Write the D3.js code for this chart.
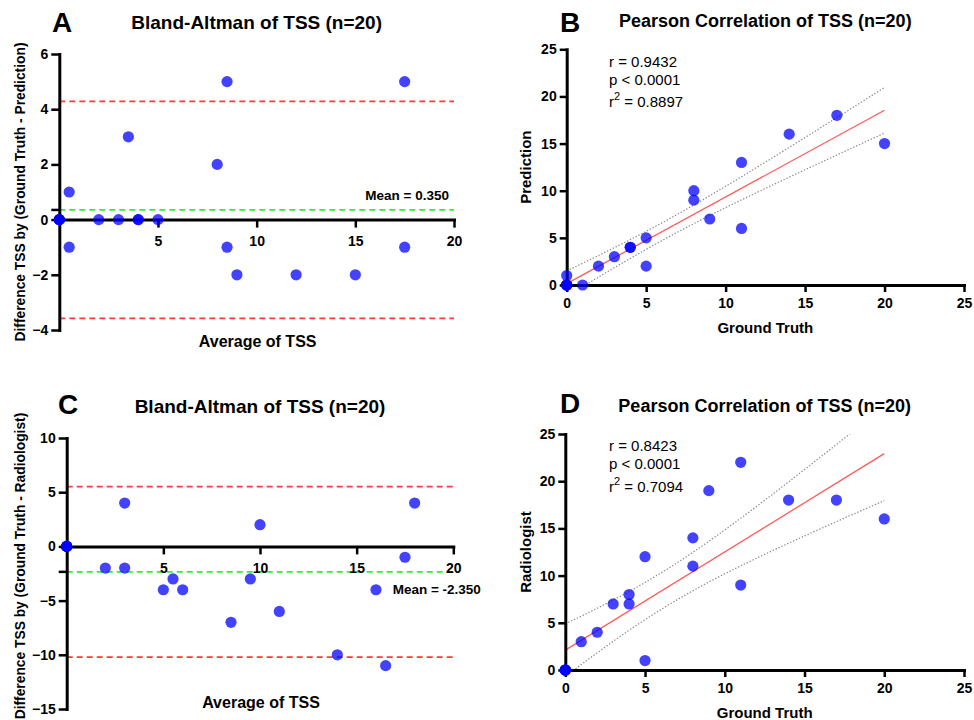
<!DOCTYPE html>
<html>
<head>
<meta charset="utf-8">
<script src="https://cdn.jsdelivr.net/npm/d3@7"></script>
<style>
  html, body { margin: 0; padding: 0; background: #fff; }
  svg { display: block; font-family: "Liberation Sans", Arial, sans-serif; }
</style>
</head>
<body>
<svg id="chart" width="974" height="720"></svg>
<script>
// ---------------- DATA ----------------
const groundTruth  = [0,0,0,0,0,1,2,3,4,4,5,5,8,8,9,11,11,14,17,20];
const prediction   = [0,0,0,0,1,0,2,3,4,4,5,2,10,9,7,13,6,16,18,15];
const radiologist  = [0,0,0,0,0,3,4,7,8,7,12,1,14,11,19,22,9,18,18,16];

// Bland-Altman: Ground Truth vs Prediction
const baPredAverage    = [0,0,0,0,0.5,0.5,2,3,4,4,5,3.5,9,8.5,8,12,8.5,15,17.5,17.5];
const baPredDifference = [0,0,0,0,-1,1,0,0,0,0,0,3,-2,-1,2,-2,5,-2,-1,5];
// Bland-Altman: Ground Truth vs Radiologist
const baRadAverage     = [0,0,0,0,0,2,3,5,6,5.5,8.5,3,11,9.5,14,16.5,10,16,17.5,18];
const baRadDifference  = [0,0,0,0,0,-2,-2,-4,-4,-3,-7,4,-6,-3,-10,-11,2,-4,-1,4];

// bias and 95% limits of agreement [prediction, radiologist]
const biasValues = [0.35, -2.35];
const upperLoA   = [4.28, 5.51];
const lowerLoA   = [-3.58, -10.21];
const meanLabels = ["Mean = 0.350", "Mean = -2.350"];

// tick values
const baPredYTicks = [-4,-2,0,2,4,6];
const baRadYTicks  = [-15,-10,-5,0,5,10];
const baXTicks     = [5,10,15,20];
const corrTicks    = [0,5,10,15,20,25];

// correlation statistics text
const corrPredStats = ["r = 0.9432", "p < 0.0001", "0.8897"];
const corrRadStats  = ["r = 0.8423", "p < 0.0001", "0.7094"];

// ---------------- DRAW ----------------
const svg = d3.select("#chart");
const BLUE = "rgba(0,0,255,0.74)";

function styleAxis(sel, fontSize) {
  sel.select(".domain").attr("stroke", "#000").attr("stroke-width", 3).attr("stroke-linecap", "square");
  sel.selectAll(".tick line").attr("stroke", "#000").attr("stroke-width", 2.5);
  sel.selectAll(".tick text").attr("fill", "#000")
     .style("font-size", fontSize + "px").style("font-weight", "bold")
     .style("font-family", "'Liberation Sans', Arial, sans-serif");
}

function text(x, y, str, opts) {
  const t = svg.append("text").attr("x", x).attr("y", y).text(str)
    .style("font-size", (opts.size || 14) + "px")
    .style("font-weight", opts.bold === false ? "normal" : "bold")
    .attr("text-anchor", opts.anchor || "middle")
    .attr("fill", "#000");
  if (opts.rotate) t.attr("transform", `rotate(-90,${x},${y})`);
  return t;
}

function blandAltman(cfg) {
  const x = d3.scaleLinear().domain([0, 20]).range(cfg.xr);
  const y = d3.scaleLinear().domain(cfg.yd).range(cfg.yr);
  const g = svg.append("g");

  // reference lines
  const lines = [
    {v: cfg.upper, c: "#ff3b3b"},
    {v: cfg.lower, c: "#ff3b3b"},
    {v: cfg.bias,  c: "#3ee83e"}
  ];
  g.selectAll("line.ref").data(lines).join("line")
    .attr("x1", x(0)).attr("x2", x(20))
    .attr("y1", d => y(d.v)).attr("y2", d => y(d.v))
    .attr("stroke", d => d.c).attr("stroke-width", 1.8)
    .attr("stroke-dasharray", "6,4");

  // axes
  const ya = g.append("g").attr("transform", `translate(${x(0)},0)`)
    .call(d3.axisLeft(y).tickValues(cfg.yTicks).tickSize(8).tickPadding(3).tickSizeOuter(0));
  styleAxis(ya, 14);
  // unlabeled tick at the bias
  g.append("line").attr("x1", x(0) - 8).attr("x2", x(0))
    .attr("y1", y(cfg.bias)).attr("y2", y(cfg.bias))
    .attr("stroke", "#000").attr("stroke-width", 2.5);

  const xa = g.append("g").attr("transform", `translate(0,${y(0)})`)
    .call(d3.axisBottom(x).tickValues(baXTicks).tickSize(8).tickPadding(cfg.xPad).tickSizeOuter(0));
  styleAxis(xa, 14);

  // points
  g.selectAll("circle").data(cfg.avg.map((a, i) => [a, cfg.diff[i]])).join("circle")
    .attr("cx", d => x(d[0])).attr("cy", d => y(d[1])).attr("r", 5.6)
    .attr("fill", BLUE);

  // texts
  text(cfg.letter[1], cfg.letter[2], cfg.letter[0], {size: 28, anchor: "start"});
  text((cfg.xr[0] + cfg.xr[1]) / 2, cfg.titleY, "Bland-Altman of TSS (n=20)", {size: 19});
  text(25, cfg.yLabelC, cfg.yLabel, {size: 13.8, rotate: true});
  text((cfg.xr[0] + cfg.xr[1]) / 2 + 1, cfg.xLabelY, "Average of TSS", {size: 16});
  text(cfg.meanPos[0], cfg.meanPos[1], cfg.meanText, {size: 13.5, anchor: cfg.meanPos[2]});
}

function correlation(cfg) {
  const x = d3.scaleLinear().domain([0, 25]).range(cfg.xr);
  const y = d3.scaleLinear().domain([0, 25]).range(cfg.yr);
  const g = svg.append("g");
  const xs = cfg.xv, ys = cfg.yv, n = xs.length;

  // linear regression with 95% confidence band of the fit
  const mx = d3.mean(xs), my = d3.mean(ys);
  const sxx = d3.sum(xs, v => (v - mx) ** 2);
  const sxy = d3.sum(xs, (v, i) => (v - mx) * (ys[i] - my));
  const slope = sxy / sxx, icpt = my - slope * mx;
  const sse = d3.sum(xs, (v, i) => (ys[i] - (icpt + slope * v)) ** 2);
  const s = Math.sqrt(sse / (n - 2));
  const tcrit = 2.101; // t(0.975, 18)
  const xmin = d3.min(xs), xmax = d3.max(xs);
  const grid = d3.range(0, 101).map(k => xmin + (xmax - xmin) * k / 100);
  const band = sgn => grid.map(v => [v, icpt + slope * v + sgn * tcrit * s * Math.sqrt(1 / n + (v - mx) ** 2 / sxx)]);

  const clipId = "clip" + cfg.letter[0];
  svg.append("clipPath").attr("id", clipId).append("rect")
    .attr("x", x(0)).attr("y", y(25)).attr("width", x(25) - x(0)).attr("height", y(0) - y(25));

  const line = d3.line().x(d => x(d[0])).y(d => y(d[1]));
  const lg = g.append("g").attr("clip-path", `url(#${clipId})`);
  [1, -1].forEach(sg => {
    lg.append("path").attr("d", line(band(sg))).attr("fill", "none")
      .attr("stroke", "#8a8a8a").attr("stroke-width", 1.2).attr("stroke-dasharray", "1.4,1.8");
  });
  lg.append("path").attr("d", line([[xmin, icpt + slope * xmin], [xmax, icpt + slope * xmax]]))
    .attr("fill", "none").attr("stroke", "#ff5a5a").attr("stroke-width", 1.3);

  // axes
  const ya = g.append("g").attr("transform", `translate(${x(0)},0)`)
    .call(d3.axisLeft(y).tickValues(corrTicks).tickSize(7).tickPadding(3).tickSizeOuter(0));
  styleAxis(ya, 14);
  const xa = g.append("g").attr("transform", `translate(0,${y(0)})`)
    .call(d3.axisBottom(x).tickValues(corrTicks).tickSize(7).tickPadding(6).tickSizeOuter(0));
  styleAxis(xa, 14);

  g.selectAll("circle").data(xs.map((v, i) => [v, ys[i]])).join("circle")
    .attr("cx", d => x(d[0])).attr("cy", d => y(d[1])).attr("r", 5.6)
    .attr("fill", BLUE);

  // texts
  text(cfg.letter[1], cfg.letter[2], cfg.letter[0], {size: 28, anchor: "start"});
  text((cfg.xr[0] + cfg.xr[1]) / 2, cfg.titleY, "Pearson Correlation of TSS (n=20)", {size: 18});
  text(531, (cfg.yr[0] + cfg.yr[1]) / 2, cfg.yLabel, {size: 15, rotate: true});
  text((cfg.xr[0] + cfg.xr[1]) / 2, cfg.xLabelY, "Ground Truth", {size: 15});

  const st = cfg.stats;
  text(609, cfg.statsY[0], st[0], {size: 15, bold: false, anchor: "start"});
  text(609, cfg.statsY[1], st[1], {size: 15, bold: false, anchor: "start"});
  const t3 = svg.append("text").attr("x", 609).attr("y", cfg.statsY[2])
    .style("font-size", "15px").attr("fill", "#000").attr("text-anchor", "start");
  t3.append("tspan").text("r");
  t3.append("tspan").attr("dy", -7).style("font-size", "11px").text("2");
  t3.append("tspan").attr("dy", 7).text(" = " + st[2]);
}

blandAltman({
  xr: [59.3, 454], yd: [-4, 6], yr: [330, 54], yTicks: baPredYTicks,
  avg: baPredAverage, diff: baPredDifference,
  bias: biasValues[0], upper: upperLoA[0], lower: lowerLoA[0],
  letter: ["A", 52, 32], titleY: 29, xLabelY: 347, xPad: 8,
  yLabel: "Difference TSS by (Ground Truth - Prediction)", yLabelC: 192,
  meanText: meanLabels[0], meanPos: [449, 200, "end"]
});

correlation({
  xr: [566.7, 964], yr: [285, 49.3], xv: groundTruth, yv: prediction,
  letter: ["B", 560, 32], titleY: 27, xLabelY: 333,
  yLabel: "Prediction", stats: corrPredStats, statsY: [66.5, 84.5, 106.5]
});

blandAltman({
  xr: [66.7, 453.3], yd: [-15, 10], yr: [709, 438], yTicks: baRadYTicks,
  avg: baRadAverage, diff: baRadDifference,
  bias: biasValues[1], upper: upperLoA[1], lower: lowerLoA[1],
  letter: ["C", 58, 414], titleY: 413, xLabelY: 708, xPad: 9,
  yLabel: "Difference TSS by (Ground Truth - Radiologist)", yLabelC: 566,
  meanText: meanLabels[1], meanPos: [392.7, 594, "start"]
});

correlation({
  xr: [565.3, 964], yr: [670, 434], xv: groundTruth, yv: radiologist,
  letter: ["D", 560, 413], titleY: 411.5, xLabelY: 717.5,
  yLabel: "Radiologist", stats: corrRadStats, statsY: [451, 468.5, 491.5]
});
</script>
</body>
</html>
